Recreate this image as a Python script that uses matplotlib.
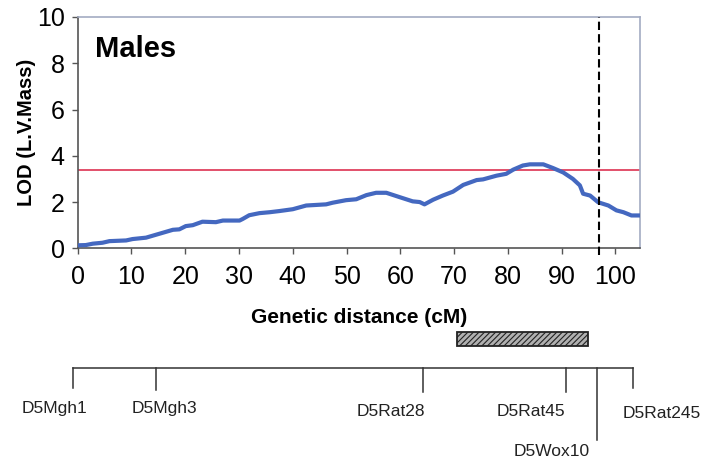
import matplotlib
matplotlib.use("Agg")
import matplotlib.pyplot as plt

plt.rcParams['font.family'] = ['Liberation Sans', 'DejaVu Sans']
plt.rcParams['hatch.color'] = '#555555'
plt.rcParams['hatch.linewidth'] = 0.8

# LOD profile along chromosome 5 (males)
position_cm = [0, 1.5, 2.8, 4.6, 5.9, 9.0, 10.2, 12.7, 15.2, 17.7, 18.9, 20.1, 21.4,
               23.2, 25.7, 27.0, 30.1, 30.7, 31.9, 33.8, 35.7, 37.5, 40.0, 42.5, 46.2,
               47.4, 49.9, 51.8, 53.7, 55.5, 57.4, 59.9, 62.3, 63.6, 64.5, 66.1, 67.9,
               69.8, 71.7, 74.2, 75.4, 77.9, 79.7, 81.0, 82.8, 84.1, 86.6, 88.4, 90.3,
               92.1, 93.4, 94.0, 95.3, 96.8, 98.7, 100.2, 101.5, 103.0, 104.5]
lod = [0.13, 0.14, 0.20, 0.24, 0.31, 0.34, 0.40, 0.46, 0.63, 0.80, 0.82, 0.96, 1.00,
       1.15, 1.13, 1.20, 1.20, 1.27, 1.43, 1.52, 1.56, 1.61, 1.69, 1.85, 1.90,
       1.97, 2.08, 2.12, 2.30, 2.40, 2.40, 2.21, 2.03, 2.00, 1.90, 2.10, 2.28,
       2.45, 2.74, 2.95, 2.98, 3.14, 3.22, 3.40, 3.58, 3.63, 3.63, 3.47, 3.28,
       3.00, 2.72, 2.36, 2.28, 1.99, 1.85, 1.64, 1.56, 1.42, 1.42]

threshold = 3.4
peak_marker_cm = 96.9
ci_start, ci_end = 70.5, 94.9

x_ticks = list(range(0, 101, 10))
y_ticks = [0, 2, 4, 6, 8, 10]

markers = ['D5Mgh1', 'D5Mgh3', 'D5Rat28', 'D5Rat45', 'D5Wox10', 'D5Rat245']
marker_cm = [-0.8, 14.5, 64.3, 90.8, 96.6, 103.2]
label_cm = [-4.4, 16.05, 58.3, 84.3, 88.2, 108.7]

fig = plt.figure(figsize=(7.19, 4.63), dpi=100)
ax = fig.add_axes([0.1081, 0.4637, 0.7814, 0.4996])

ax.plot(position_cm, lod, color='#4468c0', lw=3.0, solid_joinstyle='round', zorder=3)
ax.axhline(threshold, color='#e2506a', lw=1.4, zorder=2)
ax.plot([peak_marker_cm, peak_marker_cm], [-0.3, 10], color='black', lw=1.5,
        dashes=(4, 2), clip_on=False, zorder=4)

ax.set_xlim(0, 104.5)
ax.set_ylim(0, 10)
ax.set_xticks(x_ticks)
ax.set_yticks(y_ticks)
ax.tick_params(axis='both', labelsize=18, length=4, width=1, color='#555555')
ax.tick_params(axis='y', pad=5.5)
ax.tick_params(axis='x', pad=8)

for side in ['left', 'bottom']:
    ax.spines[side].set_color('#555555')
    ax.spines[side].set_linewidth(1.2)
for side in ['top', 'right']:
    ax.spines[side].set_color('#a3abc2')
    ax.spines[side].set_linewidth(1.2)

ax.set_ylabel('LOD (L.V.Mass)', fontsize=14.5, fontweight='bold')
ax.yaxis.set_label_coords(-0.092, 0.5)
ax.yaxis.label.set_va('center')
ax.set_xlabel('Genetic distance (cM)', fontsize=15, fontweight='bold')
ax.xaxis.set_label_coords(0.5, -0.299)
ax.xaxis.label.set_va('center')

fig.text(95 / 719, 1 - 57 / 463, 'Males', fontsize=21, fontweight='bold',
         va='baseline', ha='left')

# Marker map below the profile; vertical units are pixel rows from the top
mp = fig.add_axes([0.1081, 0.0, 0.7814, 173 / 463])
mp.set_xlim(0, 104.5)
mp.set_ylim(463, 290)
mp.axis('off')

map_y = 367.5
tick_ends = [388, 390, 392, 392, 440, 388]
label_y = [408, 408, 411.5, 411, 451.5, 413]

mp.plot([marker_cm[0], marker_cm[-1]], [map_y, map_y], color='#333333', lw=1.1,
        clip_on=False)
for m, xc, lx, te, ly in zip(markers, marker_cm, label_cm, tick_ends, label_y):
    mp.plot([xc, xc], [map_y, te], color='#333333', lw=1.1, clip_on=False)
    mp.text(lx, ly, m, fontsize=12.5, ha='center', va='center', color='#222222',
            clip_on=False)

mp.bar((ci_start + ci_end) / 2, 14, width=ci_end - ci_start, bottom=332,
       facecolor='#b0b0b0', edgecolor='#222222', hatch='//////', lw=1.3)

fig.savefig('out.png', dpi=100)
